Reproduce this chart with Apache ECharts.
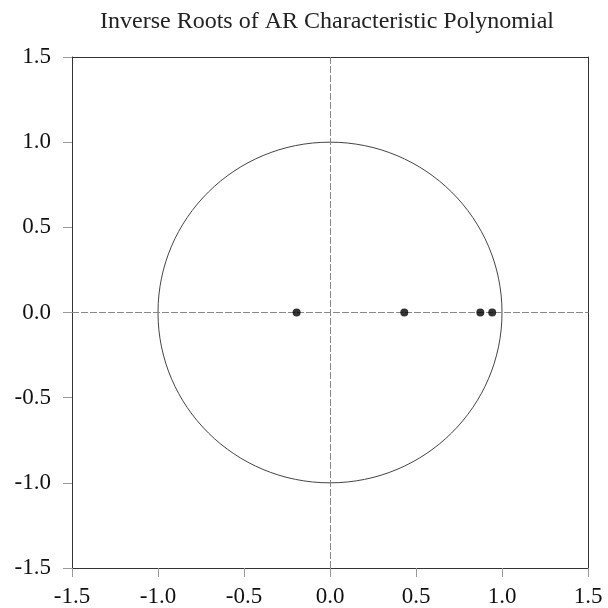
<!DOCTYPE html>
<html>
<head>
<meta charset="utf-8">
<script src="https://cdn.jsdelivr.net/npm/echarts@6/dist/echarts.min.js"></script>
<style>
html,body{margin:0;padding:0;background:#fff;}
#main{width:608px;height:608px;}
</style>
</head>
<body>
<div id="main"></div>
<script>
var rootsReal = [-0.194, 0.432, 0.874, 0.943];
var rootsImag = [0, 0, 0, 0];
var unitCircle = [[0, 0, 1]];
var titleText = 'Inverse Roots of AR Characteristic Polynomial';

var points = rootsReal.map(function (r, i) { return [r, rootsImag[i]]; });
var font = '"Liberation Serif", "Times New Roman", serif';

var chart = echarts.init(document.getElementById('main'), null, {renderer: 'canvas'});
function axisCfg(margin) {
  return {
    type: 'value', min: -1.5, max: 1.5, interval: 0.5,
    axisLine: {show: true, onZero: false, lineStyle: {color: '#333', width: 1}},
    axisTick: {show: true, inside: false, length: 9, lineStyle: {color: '#999'}},
    axisLabel: {color: '#111', fontFamily: font, fontSize: 23, margin: margin,
      formatter: function (v) { return v.toFixed(1); }},
    splitLine: {show: false}
  };
}
var xa = axisCfg(17); xa.position = 'bottom';
var ya = axisCfg(21); ya.position = 'left';
var xa2 = {type: 'value', min: -1.5, max: 1.5, position: 'top', axisLine: {show: true, onZero:false, lineStyle: {color: '#333'}}, axisTick: {show: false}, axisLabel: {show: false}, splitLine: {show: false}};
var ya2 = {type: 'value', min: -1.5, max: 1.5, position: 'right', axisLine: {show: true, onZero:false, lineStyle: {color: '#333'}}, axisTick: {show: false}, axisLabel: {show: false}, splitLine: {show: false}};

chart.setOption({
  animation: false,
  backgroundColor: '#fff',
  title: {
    text: titleText, left: 322, textAlign: 'center', top: 5,
    textStyle: {fontFamily: font, fontSize: 24, fontWeight: 'normal', color: '#222'}
  },
  grid: {left: 72, right: 20, top: 57, bottom: 40},
  xAxis: [xa, xa2],
  yAxis: [ya, ya2],
  series: [
    {
      type: 'custom',
      xAxisIndex: 0, yAxisIndex: 0,
      data: unitCircle,
      silent: true,
      renderItem: function (params, api) {
        var c = api.coord([api.value(0), api.value(1)]);
        var rx = api.coord([api.value(0) + api.value(2), api.value(1)])[0] - c[0];
        var ry = c[1] - api.coord([api.value(0), api.value(1) + api.value(2)])[1];
        return {
          type: 'ellipse',
          shape: {cx: c[0], cy: c[1], rx: rx, ry: ry},
          style: {fill: null, stroke: '#444', lineWidth: 1}
        };
      },
      z: 1
    },
    {
      type: 'scatter',
      xAxisIndex: 0, yAxisIndex: 0,
      data: points,
      symbol: 'circle',
      symbolSize: 8,
      itemStyle: {color: '#000'},
      z: 5,
      markLine: {
        silent: true,
        symbol: 'none',
        label: {show: false},
        lineStyle: {color: '#888', type: [7, 2], width: 1},
        data: [{xAxis: 0}, {yAxis: 0}],
        z: 2
      }
    }
  ]
});
</script>
</body>
</html>
